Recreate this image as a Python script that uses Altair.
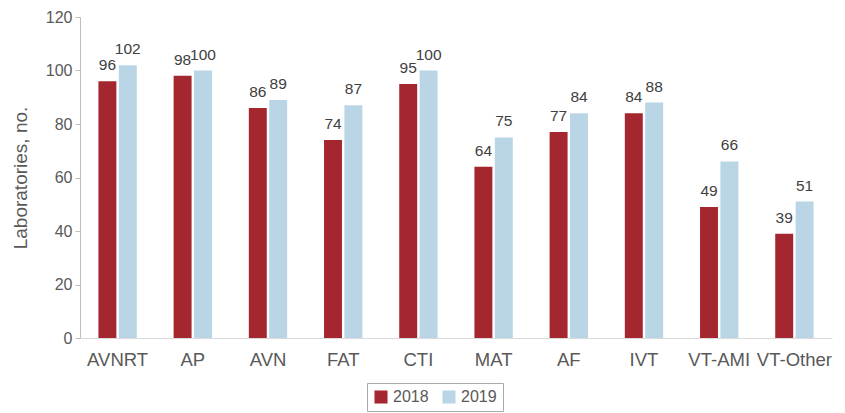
import altair as alt
import pandas as pd

categories = ["AVNRT", "AP", "AVN", "FAT", "CTI", "MAT", "AF", "IVT", "VT-AMI", "VT-Other"]
v2018 = [96, 98, 86, 74, 95, 64, 77, 84, 49, 39]
v2019 = [102, 100, 89, 87, 100, 75, 84, 88, 66, 51]
years = ["2018", "2019"]
colors = ["#A4262F", "#BAD5E6"]

rows = []
for c, a, b in zip(categories, v2018, v2019):
    rows.append({"cat": c, "year": "2018", "value": a})
    rows.append({"cat": c, "year": "2019", "value": b})
df = pd.DataFrame(rows)

FONT = "Liberation Sans"

x = alt.X("cat:N", sort=categories, title=None,
          scale=alt.Scale(paddingInner=0.49, paddingOuter=0.245),
          axis=alt.Axis(labelAngle=0, labelFontSize=18.5, labelColor="#595959",
                        labelFont=FONT, ticks=False, domainColor="#d9d9d9",
                        labelPadding=12, labelOverlap=False))
xo = alt.XOffset("year:N", sort=years, scale=alt.Scale(paddingInner=0.12))
y = alt.Y("value:Q", title="Laboratories, no.",
          scale=alt.Scale(domain=[0, 120]),
          axis=alt.Axis(values=[0, 20, 40, 60, 80, 100, 120], grid=False,
                        labelFontSize=16, labelColor="#595959", labelFont=FONT,
                        labelPadding=3,
                        titleFont=FONT, titleFontSize=19, titleColor="#595959",
                        titleFontWeight="normal", domainColor="#bfbfbf",
                        tickColor="#bfbfbf", tickSize=5, titlePadding=15))

base = alt.Chart(df).encode(x=x, xOffset=xo, y=y)

bars = base.mark_bar().encode(
    color=alt.Color("year:N", sort=years,
                    scale=alt.Scale(domain=years, range=colors),
                    legend=alt.Legend(title=None, orient="none", direction="horizontal",
                                      legendX=287, legendY=366,
                                      symbolType="square", symbolSize=170,
                                      symbolStrokeWidth=0,
                                      labelFontSize=16, labelFont=FONT,
                                      labelColor="#595959", strokeColor="#aaaaaa",
                                      padding=6, columnPadding=12))
)

labels = base.mark_text(baseline="alphabetic", dy=-11, fontSize=15.5, font=FONT,
                        color="#404040").encode(text="value:Q")

chart = alt.layer(bars, labels).properties(
    width=752, height=321,
    autosize=alt.AutoSizeParams(type="none"),
    padding={"left": 72, "top": 9, "right": 5, "bottom": 78}
).configure_view(stroke=None)

chart.save("out.html", embed_options={"renderer": "svg", "actions": False})
